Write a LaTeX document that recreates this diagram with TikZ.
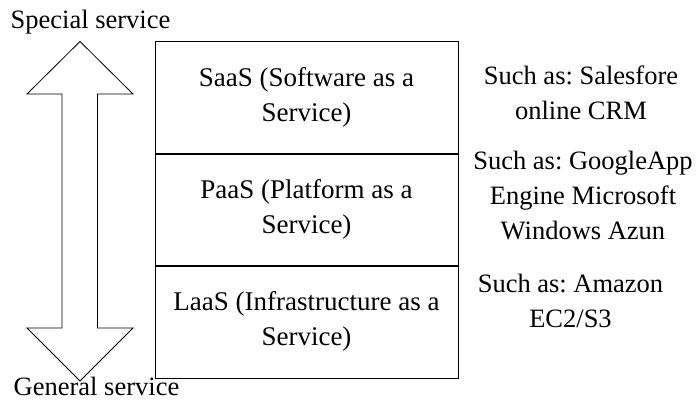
\documentclass[tikz,border=0pt]{standalone}
\usepackage{fontspec}
\setmainfont{Liberation Serif}
\usetikzlibrary{positioning}
\frenchspacing

\tikzset{
	layer/.style = {draw, line width=1pt, minimum width=303pt, minimum height=113pt,
		inner sep=0pt, outer sep=0pt, align=center, font=\fontsize{27}{35}\selectfont},
	example/.style = {align=center, inner sep=0pt},
	level/.style = {anchor=base, inner sep=0pt}
}

\begin{document}
\begin{tikzpicture}[x=1pt, y=-1pt, font=\fontsize{26.5}{35}\selectfont]
	\useasboundingbox (0,0) rectangle (697,402);
	
	% service layers
	\node[layer] (saas) at (306.5, 97.5) {SaaS (Software as a\\ Service)};
	\node[layer, below=-1pt of saas] (paas) {PaaS (Platform as a\\ Service)};
	\node[layer, below=-1pt of paas] (iaas) {LaaS (Infrastructure as a\\ Service)};
	
	% examples
	\node[example] (saasex) at (581, 93) {Such as: Salesfore\\ online CRM};
	\node[example] (paasex) at (583, 196) {Such as: GoogleApp\\ Engine Microsoft\\ Windows Azun};
	\node[example] (iaasex) at (570.5, 301) {Such as: Amazon\\ EC2/S3};
	
	% double arrow
	\draw[line width=0.8pt, line join=miter]
		(80,41.5) -- (133,94) -- (97.5,94) -- (97.5,328) -- (133,328)
		-- (80,381) -- (27,328) -- (62,328) -- (62,94) -- (27,94) -- cycle;
	
	\node[level] (special) at (90.5, 28) {Special service};
	\node[level] (general) at (96.5, 395) {General service};
\end{tikzpicture}
\end{document}
